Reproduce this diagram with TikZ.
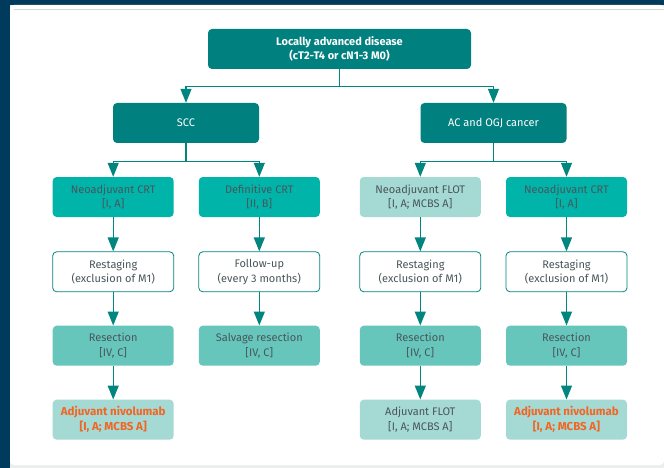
\documentclass[tikz,border=0pt]{standalone}
\usepackage{fontspec}
\setmainfont{Fira Sans}
\usetikzlibrary{calc}
\usetikzlibrary{arrows.meta}
\definecolor{navy}{RGB}{0,58,92}
\definecolor{darkteal}{RGB}{0,128,126}
\definecolor{brightteal}{RGB}{0,180,170}
\definecolor{midteal}{RGB}{102,198,188}
\definecolor{lightteal}{RGB}{164,217,212}
\definecolor{lineteal}{RGB}{0,133,127}
\definecolor{txtgray}{RGB}{74,86,90}
\definecolor{adjorange}{RGB}{242,101,34}
\definecolor{panelgray}{RGB}{236,238,238}

\tikzset{
  box/.style={rounded corners=4pt, minimum width=121pt, minimum height=40pt,
    inner sep=0pt, align=center, text=txtgray,
    font=\fontsize{11}{14.5}\selectfont},
  headbox/.style={box, fill=darkteal, text=white},
  treatbox/.style={box, fill=brightteal},
  flotbox/.style={box, fill=lightteal},
  checkbox/.style={box, fill=white, draw=lineteal, line width=0.8pt},
  resbox/.style={box, fill=midteal},
  adjbox/.style={box, fill=lightteal},
  arr/.style={draw=lineteal, line width=1.3pt,
    -{Triangle[length=14pt,width=11pt]}}
}

\begin{document}
\begin{tikzpicture}[x=1pt,y=-1pt]
\useasboundingbox (0,0) rectangle (664,468);
\fill[navy] (0,0) rectangle (664,468);
\fill[panelgray] (10,5) rectangle (664,468);
\fill[white, rounded corners=4pt] (10,5) -- (664,5) -- (664,465) -- (10,465) -- cycle;
\draw[panelgray!80!gray, line width=0.8pt] (14,9.5) -- (664,9.5);

\node[headbox, minimum width=263pt, font=\bfseries\fontsize{11}{14.5}\selectfont] (top) at (339.5,49)
  {Locally advanced disease\\(cT2-T4 or cN1-3 M0)};
\node[headbox, minimum width=146pt] (scc) at (186,123) {SCC};
\node[headbox, minimum width=146pt] (acogj) at (493.5,123) {AC and OGJ cancer};

\node[treatbox] (neoL) at (113.2,197) {Neoadjuvant CRT\\{[I, A]}};
\node[treatbox] (defcrt) at (259.3,197) {Definitive CRT\\{[II, B]}};
\node[flotbox] (flot) at (420.3,197) {Neoadjuvant FLOT\\{[I, A; MCBS A]}};
\node[treatbox] (neoR) at (566.5,197) {Neoadjuvant CRT\\{[I, A]}};

\node[checkbox] (restL) at (113.2,271.8) {Restaging\\(exclusion of M1)};
\node[checkbox] (follow) at (259.3,271.8) {Follow-up\\(every 3 months)};
\node[checkbox] (restM) at (420.3,271.8) {Restaging\\(exclusion of M1)};
\node[checkbox] (restR) at (566.5,271.8) {Restaging\\(exclusion of M1)};

\node[resbox] (resL) at (113.2,345.7) {Resection\\{[IV, C]}};
\node[resbox] (salvage) at (259.3,345.7) {Salvage resection\\{[IV, C]}};
\node[resbox] (resM) at (420.3,345.7) {Resection\\{[IV, C]}};
\node[resbox] (resR) at (566.5,345.7) {Resection\\{[IV, C]}};

\node[adjbox, text=adjorange, font=\bfseries\fontsize{11.5}{15}\selectfont] (adjL) at (113.2,419.7)
  {Adjuvant nivolumab\\{[I, A; MCBS A]}};
\node[adjbox] (adjM) at (420.3,419.7) {Adjuvant FLOT\\{[I, A; MCBS A]}};
\node[adjbox, text=adjorange, font=\bfseries\fontsize{11.5}{15}\selectfont] (adjR) at (566.5,419.7)
  {Adjuvant nivolumab\\{[I, A; MCBS A]}};

% forks
\draw[arr] (top.south) -- ++(0,17) -| (scc.north);
\draw[arr] (top.south) -- ++(0,17) -| (acogj.north);
\draw[arr] (scc.south) -- ++(0,18) -| (neoL.north);
\draw[arr] (scc.south) -- ++(0,18) -| (defcrt.north);
\draw[arr] (acogj.south) -- ++(0,18) -| (flot.north);
\draw[arr] (acogj.south) -- ++(0,18) -| (neoR.north);

% columns
\draw[arr] (neoL) -- (restL);
\draw[arr] (restL) -- (resL);
\draw[arr] (resL) -- (adjL);
\draw[arr] (defcrt) -- (follow);
\draw[arr] (follow) -- (salvage);
\draw[arr] (flot) -- (restM);
\draw[arr] (restM) -- (resM);
\draw[arr] (resM) -- (adjM);
\draw[arr] (neoR) -- (restR);
\draw[arr] (restR) -- (resR);
\draw[arr] (resR) -- (adjR);
\end{tikzpicture}
\end{document}
